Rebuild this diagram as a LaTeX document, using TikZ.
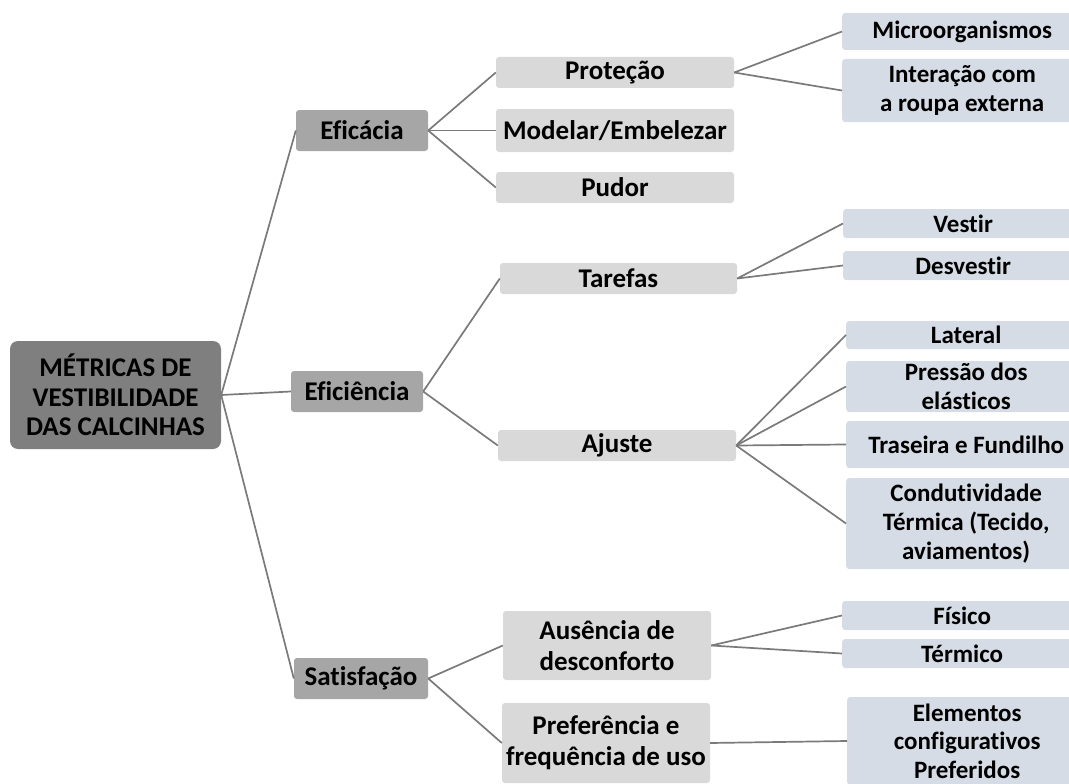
\documentclass[tikz,border=0pt]{standalone}
\usepackage{fontspec}
\setmainfont{Carlito}[Ligatures=NoCommon]

\definecolor{rootgray}{HTML}{7F7F7F}
\definecolor{midgray}{HTML}{A6A6A6}
\definecolor{palegray}{HTML}{D9D9D9}
\definecolor{bluegray}{HTML}{D6DCE5}
\definecolor{linkgray}{HTML}{7A7A7A}

\tikzset{
  cell/.style={inner sep=0pt, align=center, rounded corners=3pt,
    font=\bfseries\fontsize{27}{31}\selectfont},
  rootbox/.style={cell, fill=rootgray, rounded corners=8pt,
    font=\bfseries\fontsize{27}{29.5}\selectfont},
  topic/.style={cell, fill=midgray, minimum width=132pt, minimum height=41pt},
  subtopic/.style={cell, fill=palegray, minimum width=238pt},
  leaf/.style={cell, fill=bluegray, anchor=west, minimum width=240pt,
    font=\bfseries\fontsize{25}{29}\selectfont},
  link/.style={draw=linkgray, line width=1.7pt}
}

\begin{document}
\begin{tikzpicture}[x=1pt, y=-1pt]
    \useasboundingbox (0,0) rectangle (1069,784);

    % Root
    \node[rootbox, minimum width=211pt, minimum height=108pt] (root) at (115.5,395)
        {MÉTRICAS DE\\VESTIBILIDADE\\DAS CALCINHAS};

    % First level
    \node[topic] (eficacia) at (362,130.5) {Eficácia};
    \node[topic] (eficiencia) at (357,391.5) {Eficiência};
    \node[topic, minimum width=134pt] (satisfacao) at (361,678.5) {Satisfação};

    % Second level
    \node[subtopic, minimum height=31pt] (protecao) at (615,72.5) {Proteção};
    \node[subtopic, minimum height=43pt] (modelar) at (615,130.5) {Modelar/Embelezar};
    \node[subtopic, minimum height=31pt] (pudor) at (615,187.5) {Pudor};
    \node[subtopic, minimum width=237pt, minimum height=31pt] (tarefas) at (618.5,278.5) {Tarefas};
    \node[subtopic, minimum height=31pt] (ajuste) at (617,445.5) {Ajuste};
    \node[subtopic, minimum width=208pt, minimum height=69pt] (ausencia) at (607,645.5)
        {Ausência de\\desconforto};
    \node[subtopic, minimum width=208pt, minimum height=80pt] (preferencia) at (606,743)
        {Preferência e\\frequência de uso};

    % Third level
    \node[leaf, minimum height=37pt] (micro) at (842,31.5) {Microorganismos};
    \node[leaf, minimum height=63pt] (interacao) at (842,90.5) {Interação com\\a roupa externa};
    \node[leaf, minimum height=29pt] (vestir) at (843,223.5) {Vestir};
    \node[leaf, minimum height=29pt] (desvestir) at (843,265.5) {Desvestir};
    \node[leaf, minimum height=28pt] (lateral) at (846,335) {Lateral};
    \node[leaf, minimum height=51pt] (pressao) at (846,386.5) {Pressão dos\\elásticos};
    \node[leaf, minimum height=47pt] (traseira) at (846,444.5) {Traseira e Fundilho};
    \node[leaf, minimum height=91pt] (condutividade) at (846,523.5)
        {Condutividade\\Térmica (Tecido,\\aviamentos)};
    \node[leaf, minimum height=29pt] (fisico) at (842,615.5) {Físico};
    \node[leaf, minimum height=29pt] (termico) at (842,653.5) {Térmico};
    \node[leaf, minimum height=88pt, font=\bfseries\fontsize{25}{28.5}\selectfont]
        (elementos) at (847,741) {Elementos\\configurativos\\Preferidos};

    % Branches
    \foreach \c in {eficacia,eficiencia,satisfacao}
        \draw[link] (root.east) -- (\c.west);
    \foreach \c in {protecao,modelar,pudor}
        \draw[link] (eficacia.east) -- (\c.west);
    \foreach \c in {tarefas,ajuste}
        \draw[link] (eficiencia.east) -- (\c.west);
    \foreach \c in {ausencia,preferencia}
        \draw[link] (satisfacao.east) -- (\c.west);
    \foreach \c in {micro,interacao}
        \draw[link] (protecao.east) -- (\c.west);
    \foreach \c in {vestir,desvestir}
        \draw[link] (tarefas.east) -- (\c.west);
    \foreach \c in {lateral,pressao,traseira,condutividade}
        \draw[link] (ajuste.east) -- (\c.west);
    \foreach \c in {fisico,termico}
        \draw[link] (ausencia.east) -- (\c.west);
    \draw[link] (preferencia.east) -- (elementos.west);

\end{tikzpicture}
\end{document}
